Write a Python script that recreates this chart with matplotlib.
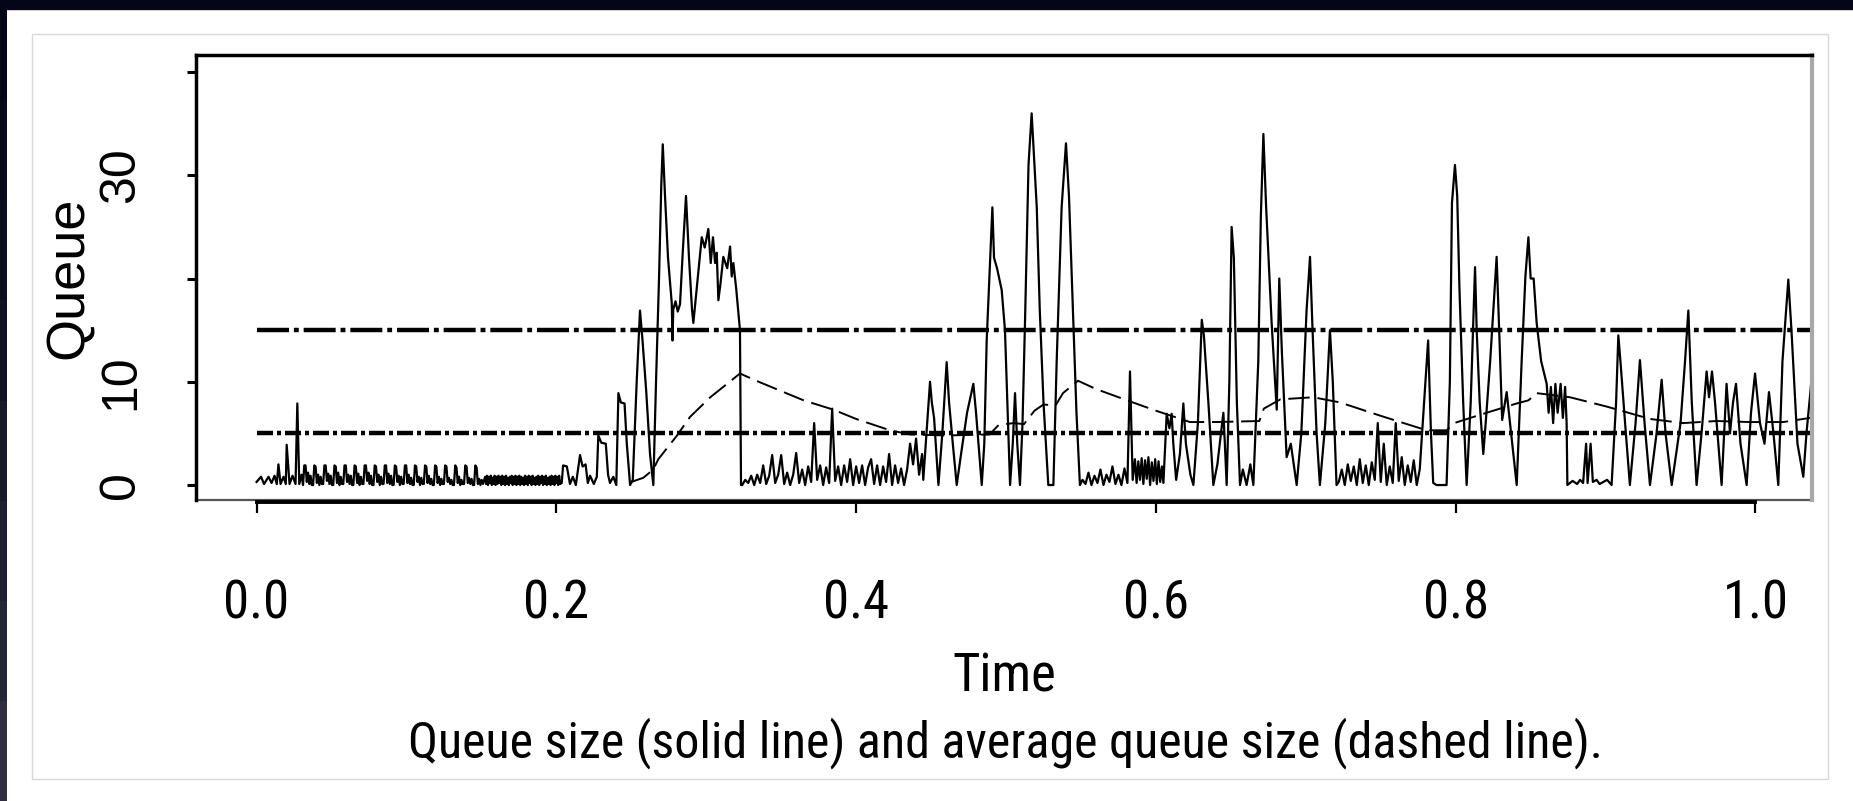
import numpy as np
import matplotlib
matplotlib.use("Agg")
import matplotlib.pyplot as plt
from matplotlib import font_manager
from matplotlib.patches import Rectangle

# === Daten ===
min_th = 5
max_th = 15

# Anfang: kleine Zacken
seg_start = [(0.000, 0.3), (0.003, 0.8), (0.005, 0.1), (0.008, 0.8), (0.010, 0.2),
             (0.012, 0.9), (0.0135, 0.1), (0.0146, 2.0), (0.016, 0.1), (0.018, 0.8),
             (0.0195, 0.1), (0.0201, 3.9), (0.022, 0.1), (0.024, 0.9), (0.026, 0.1),
             (0.0272, 7.9), (0.0285, 0.1), (0.030, 1.0)]

# periodische Zaehne t=0.031..0.151 (gleichmaessig abgetastet)
teeth_q = [0.0, 1.9, 1.9, 0.3, 1.2, 0.1, 0.9, 0.0,
           0.0, 1.9, 1.8, 0.2, 1.0, 0.0, 0.8, 0.1,
           0.1, 1.9, 1.9, 0.4, 1.1, 0.1, 0.9, 0.0,
           0.0, 1.9, 1.8, 0.2, 1.2, 0.0, 0.8, 0.1,
           0.1, 1.9, 1.9, 0.3, 1.0, 0.1, 0.9, 0.0,
           0.0, 1.9, 1.8, 0.2, 1.1, 0.0, 0.8, 0.1,
           0.1, 1.9, 1.9, 0.4, 1.2, 0.1, 0.9, 0.0,
           0.0, 1.9, 1.8, 0.3, 1.0, 0.0, 0.8, 0.1,
           0.1, 1.9, 1.9, 0.2, 1.1, 0.1, 0.9, 0.0,
           0.0, 1.9, 1.8, 0.3, 0.9, 0.0, 0.8, 0.1,
           0.1, 1.9, 1.9, 0.2, 1.0, 0.1, 0.7, 0.0,
           0.0, 1.9, 1.8, 0.3, 0.8, 0.0, 0.7, 0.1,
           0.1, 1.9, 1.8, 0.2, 0.9, 0.1, 0.6, 0.0,
           0.0, 1.9, 1.8, 0.2, 0.8, 0.0, 0.6, 0.1,
           0.1, 1.9, 1.8, 0.3, 0.7, 0.1, 0.5, 0.0,
           0.0, 1.9, 1.7, 0.2, 0.8, 0.0, 0.5, 0.1,
           0.1, 1.9, 1.8, 0.2, 0.7, 0.1, 0.6, 0.0,
           0.0, 1.9, 1.7, 0.1, 0.6, 0.0, 0.5, 0.1]

# flaches dichtes Band t=0.1525..0.2025
band_q = [0.8, 0.1, 0.9, 0.0, 0.8, 0.2, 0.9, 0.0, 0.7, 0.1, 0.9, 0.0, 0.8, 0.1,
          0.9, 0.2, 0.8, 0.0, 0.9, 0.1, 0.8, 0.0, 0.9, 0.1, 0.7, 0.0, 0.8, 0.2,
          0.9, 0.0, 0.8, 0.1, 0.9, 0.0, 0.8, 0.1, 0.9, 0.0, 0.8, 0.1, 0.7, 0.0,
          0.9, 0.1, 0.8, 0.0, 0.9, 0.2, 0.8, 0.0, 0.9, 0.1, 0.7, 0.0, 0.8, 0.1,
          0.9, 0.0, 0.8, 0.2, 0.9, 0.0, 0.8, 0.1, 0.9, 0.0, 0.7, 0.1, 0.8, 0.0,
          0.9, 0.1, 0.8, 0.0, 0.9, 0.2, 0.8, 0.0, 0.9, 0.1]

seg_burst1 = [(0.2036, 0.2), (0.2045, 1.9), (0.2070, 1.8), (0.2091, 0.1), (0.2110, 0.8),
              (0.2130, 0.0), (0.2158, 2.9), (0.2175, 1.8), (0.2195, 2.0), (0.2210, 0.2),
              (0.2225, 0.9), (0.2250, 0.1), (0.2270, 0.8), (0.2280, 4.8), (0.2300, 4.1),
              (0.2330, 4.0), (0.2345, 1.0), (0.2358, 0.2), (0.2380, 0.8), (0.2400, 0.0),
              (0.2414, 8.9), (0.2430, 8.0), (0.2455, 7.9), (0.2470, 4.0), (0.2492, 0.0),
              (0.2510, 0.5), (0.2536, 10.0), (0.2558, 16.9), (0.2575, 14.0), (0.2600, 9.0),
              (0.2625, 3.0), (0.2647, 0.0), (0.2665, 10.0), (0.2685, 20.0), (0.2700, 29.0),
              (0.2710, 33.0), (0.2725, 28.0), (0.2745, 22.0), (0.2770, 17.6), (0.2775, 14.0),
              (0.2780, 17.0), (0.2795, 17.8), (0.2810, 16.8), (0.2825, 17.5), (0.2845, 23.0),
              (0.2865, 28.0), (0.2885, 22.0), (0.2905, 17.0), (0.2914, 15.7), (0.2970, 24.0),
              (0.2990, 23.0), (0.3014, 24.8), (0.3030, 21.5), (0.3045, 24.0), (0.3059, 21.5),
              (0.3070, 22.5), (0.3081, 17.9), (0.3095, 19.5), (0.3114, 22.1), (0.3140, 21.0),
              (0.3159, 23.1), (0.3170, 20.2), (0.3181, 21.5), (0.3200, 19.0), (0.3225, 15.0),
              (0.3232, 0.0)]

# ruhige Phase t=0.324..0.444 (Schritt 0.002)
calm1_q = [0.0, 0.5, 0.2, 0.9, 0.0, 1.0, 0.2, 1.9, 0.1, 0.9, 2.9, 0.2, 1.0, 2.9, 0.1,
           1.2, 0.0, 1.0, 3.1, 0.2, 1.5, 0.0, 1.8, 0.3, 6.0, 0.5, 1.9, 0.0, 1.7, 0.2,
           7.4, 0.4, 1.8, 0.0, 1.9, 0.3, 2.5, 0.0, 1.8, 0.2, 1.9, 0.0, 1.7, 2.5, 0.1,
           1.9, 0.0, 1.8, 0.3, 3.0, 0.0, 1.9, 0.2, 1.6, 0.0, 1.5, 4.0, 2.0, 4.5, 1.0,
           3.0]

seg_burst2 = [(0.4448, 0.5), (0.4493, 10.0), (0.4505, 8.0), (0.4520, 6.5), (0.4549, 0.0),
              (0.4575, 5.0), (0.4604, 11.9), (0.4620, 8.0), (0.4645, 4.0), (0.4671, 0.0),
              (0.4700, 3.0), (0.4740, 7.0), (0.4782, 9.8), (0.4800, 7.0), (0.4838, 0.0),
              (0.4855, 4.0), (0.4871, 14.0), (0.4909, 26.9), (0.4920, 22.0), (0.4940, 21.0),
              (0.4971, 18.9), (0.4993, 15.0), (0.5027, 0.0), (0.5045, 4.0), (0.5060, 8.9),
              (0.5075, 4.0), (0.5093, 0.0), (0.5110, 6.0), (0.5127, 16.0), (0.5150, 31.0),
              (0.5171, 36.0), (0.5190, 31.0), (0.5205, 26.9), (0.5225, 17.0), (0.5250, 8.0),
              (0.5282, 0.0), (0.5316, 0.0), (0.5338, 12.0), (0.5371, 26.9), (0.5400, 33.1),
              (0.5420, 28.0), (0.5449, 15.7), (0.5470, 7.0), (0.5493, 0.0)]

# t=0.551..0.581
calm2_q = [0.5, 0.1, 1.2, 0.0, 0.9, 0.2, 1.5, 0.0, 1.0, 0.3, 1.8, 0.1, 1.0, 0.0, 1.6, 0.2]

seg_spike = [(0.5827, 11.0), (0.5845, 0.5)]

# dichter Block t=0.586..0.604
block_q = [2.5, 0.2, 2.3, 0.5, 2.6, 0.1, 2.4, 0.6, 2.7, 0.0, 2.2, 0.4, 2.5, 0.1, 2.3, 0.3, 1.8]

seg_burst3 = [(0.6050, 0.2), (0.6072, 6.9), (0.6090, 5.5), (0.6105, 6.9), (0.6116, 4.0),
              (0.6135, 0.5), (0.6160, 3.0), (0.6183, 7.9), (0.6200, 4.0), (0.6230, 1.0),
              (0.6250, 0.0), (0.6280, 6.0), (0.6306, 16.0), (0.6320, 14.5), (0.6350, 8.0),
              (0.6383, 0.0), (0.6410, 2.0), (0.6450, 7.0), (0.6460, 4.0), (0.6472, 0.0),
              (0.6490, 10.0), (0.6505, 25.0), (0.6520, 22.0), (0.6540, 8.0), (0.6561, 0.0),
              (0.6580, 1.5), (0.6605, 0.0), (0.6630, 2.0), (0.6650, 0.0), (0.6683, 12.0),
              (0.6700, 26.0), (0.6717, 34.0), (0.6735, 27.0), (0.6772, 15.7), (0.6806, 7.3),
              (0.6823, 20.0), (0.6840, 13.0), (0.6872, 2.7), (0.6900, 4.0), (0.6939, 0.0),
              (0.6970, 5.0), (0.7005, 16.9), (0.7028, 22.1), (0.7045, 15.0), (0.7072, 5.0),
              (0.7094, 0.0), (0.7130, 6.0), (0.7161, 15.0), (0.7180, 10.0), (0.7205, 0.0)]

# t=0.722..0.776
calm3_q = [0.3, 1.5, 0.0, 2.0, 0.4, 1.8, 0.0, 2.5, 0.2, 1.9, 0.0, 2.2, 0.5, 6.0,
           0.3, 4.0, 0.0, 1.8, 0.2, 6.0, 0.4, 2.7, 0.0, 1.9, 0.3, 2.4, 0.0, 1.5]

seg_burst4 = [(0.7816, 14.0), (0.7835, 5.0), (0.7850, 0.2), (0.7872, 0.0), (0.7939, 0.0),
              (0.7961, 10.0), (0.7975, 27.3), (0.7995, 31.0), (0.8010, 28.0), (0.8025, 19.0),
              (0.8050, 8.0), (0.8073, 0.0), (0.8100, 8.0), (0.8129, 21.1), (0.8140, 15.0),
              (0.8160, 8.0), (0.8184, 3.0), (0.8200, 6.0), (0.8230, 12.0), (0.8273, 22.1),
              (0.8290, 15.0), (0.8310, 6.3), (0.8340, 9.0), (0.8370, 5.0), (0.8407, 0.0),
              (0.8440, 12.0), (0.8465, 20.2), (0.8485, 24.0), (0.8500, 20.0), (0.8520, 20.0),
              (0.8540, 15.7), (0.8570, 12.0), (0.8607, 9.8), (0.8620, 7.0), (0.8635, 9.5),
              (0.8650, 6.0), (0.8665, 9.8), (0.8680, 7.0), (0.8700, 9.8), (0.8715, 6.5),
              (0.8730, 9.5), (0.8740, 6.0), (0.8745, 0.0), (0.8780, 0.4), (0.8810, 0.1),
              (0.8830, 0.5), (0.8850, 0.2), (0.8870, 4.0), (0.8880, 0.2), (0.8900, 4.0),
              (0.8915, 0.3), (0.8940, 0.5), (0.8960, 0.1), (0.8985, 0.3), (0.9010, 0.5),
              (0.9040, 0.0), (0.9070, 8.0), (0.9085, 14.5), (0.9100, 11.8), (0.9130, 6.0),
              (0.9162, 0.0), (0.9200, 6.0), (0.9229, 12.1), (0.9260, 6.0), (0.9296, 0.0),
              (0.9340, 5.0), (0.9374, 10.2), (0.9400, 5.0), (0.9441, 0.0), (0.9500, 6.0),
              (0.9530, 12.0), (0.9552, 16.9), (0.9575, 8.0), (0.9607, 0.0), (0.9640, 5.0),
              (0.9674, 11.0), (0.9690, 8.5), (0.9710, 11.0), (0.9730, 8.0), (0.9774, 0.0),
              (0.9807, 9.8), (0.9830, 5.0), (0.9850, 8.0), (0.9870, 9.8), (0.9900, 4.0),
              (0.9941, 0.0), (0.9970, 7.0), (0.9997, 10.8), (1.0030, 6.0), (1.0060, 4.0),
              (1.0090, 9.0), (1.0120, 5.0), (1.0152, 0.0), (1.0180, 12.0), (1.0219, 19.9),
              (1.0240, 15.0), (1.0280, 4.0), (1.0319, 0.8), (1.0340, 5.0), (1.0363, 8.5),
              (1.0400, 14.5), (1.0420, 18.0)]

# mittlere Warteschlange (gestrichelt)
avg_t = [0.250, 0.258, 0.2647, 0.268, 0.280, 0.2892, 0.3027, 0.3225, 0.335, 0.350,
         0.365, 0.3848, 0.400, 0.4226, 0.436, 0.460, 0.489, 0.495, 0.505, 0.512,
         0.519, 0.525, 0.533, 0.538, 0.548, 0.560, 0.5827, 0.600, 0.6227, 0.640,
         0.669, 0.672, 0.683, 0.705, 0.7228, 0.750, 0.7806, 0.7939, 0.7990, 0.8184,
         0.8407, 0.8485, 0.854, 0.8763, 0.9007, 0.9296, 0.9518, 0.974, 0.9962, 1.0186,
         1.0407]
avg_q = [0.3, 0.7, 1.5, 2.5, 4.7, 6.6, 8.5, 10.8, 10.0, 9.1,
         8.2, 7.3, 6.4, 5.3, 4.9, 4.8, 4.9, 5.8, 6.0, 5.9,
         7.2, 7.8, 7.7, 8.9, 10.1, 9.3, 8.1, 7.2, 6.1, 6.1,
         6.2, 7.4, 8.3, 8.5, 8.0, 6.7, 5.3, 5.3, 6.0, 6.9,
         7.9, 8.2, 8.9, 8.5, 7.6, 6.4, 6.0, 6.2, 6.1, 6.1,
         6.6]

x_ticks = [0.0, 0.2, 0.4, 0.6, 0.8, 1.0]
x_ticklabels = ["0.0", "0.2", "0.4", "0.6", "0.8", "1.0"]
y_ticks = [0, 10, 20, 30, 40]
y_ticklabels = ["0", "10", "", "30", ""]


def pairs(seg):
    return [p[0] for p in seg], [p[1] for p in seg]


# Zeitreihe zusammensetzen
parts_t, parts_q = [], []
for piece in [
    pairs(seg_start),
    (np.linspace(0.031, 0.151, len(teeth_q)), teeth_q),
    (np.linspace(0.1525, 0.2025, len(band_q)), band_q),
    pairs(seg_burst1),
    (np.linspace(0.324, 0.444, len(calm1_q)), calm1_q),
    pairs(seg_burst2),
    (np.linspace(0.551, 0.581, len(calm2_q)), calm2_q),
    pairs(seg_spike),
    (np.linspace(0.586, 0.604, len(block_q)), block_q),
    pairs(seg_burst3),
    (np.linspace(0.722, 0.776, len(calm3_q)), calm3_q),
    pairs(seg_burst4),
]:
    parts_t.append(np.asarray(piece[0], dtype=float))
    parts_q.append(np.asarray(piece[1], dtype=float))
queue_t = np.concatenate(parts_t)
queue_q = np.concatenate(parts_q)

# === Schriften ===
names = {f.name for f in font_manager.fontManager.ttflist}
narrow = None
for cand in ["Liberation Sans Narrow", "Roboto Condensed", "Open Sans Condensed"]:
    if cand in names:
        narrow = cand
        break
if narrow is not None:
    hfont, hsize, csize = narrow, 38, 36
else:
    hfont, hsize, csize = "Liberation Sans", 33, 31
plt.rcParams["font.family"] = [hfont, "DejaVu Sans"]

W, H = 1853, 801
fig = plt.figure(figsize=(W / 100, H / 100), dpi=100)
fig.patch.set_facecolor("white")

# Rahmen/Hintergrund wie im Screenshot
fig.patches.append(Rectangle((0, 1 - 9 / H), 1, 9 / H, transform=fig.transFigure,
                             color="#05051a", zorder=0))
strip_cols = ["#2e2e40", "#26263a", "#1e1e34", "#17172e", "#111128", "#0c0c22", "#08081d", "#05051a"]
for i, c in enumerate(strip_cols):
    fig.patches.append(Rectangle((0, i / len(strip_cols)), 7 / W, 1 / len(strip_cols),
                                 transform=fig.transFigure, color=c, lw=0, zorder=0))
fig.patches.append(Rectangle((32 / W, 1 - 779 / H), (1828 - 32) / W, (779 - 34) / H,
                             transform=fig.transFigure, fill=False,
                             edgecolor="#d8d8d8", lw=1, zorder=0))

ax = fig.add_axes([196 / W, 1 - 500 / H, (1812 - 196) / W, (500 - 55) / H])
ax.set_facecolor("white")

# Schwellen
ax.plot([0, 1.1], [max_th, max_th], color="black", lw=3.2,
        linestyle=(0, (7.2, 1.1, 1.1, 1.1)), dash_capstyle="butt")
ax.plot([0, 1.1], [min_th, min_th], color="black", lw=3.2,
        linestyle=(0, (3.6, 0.9, 0.9, 0.9)), dash_capstyle="butt")

# Queue und Mittelwert
ax.plot(queue_t, queue_q, color="black", lw=1.6)
ax.plot(avg_t, avg_q, color="black", lw=1.4, linestyle=(0, (11, 4)))

ax.set_xlim(-0.0404, 1.0377)
ax.set_ylim(-1.45, 41.65)

# Achsen im R-Stil
for side in ["left", "top"]:
    ax.spines[side].set_linewidth(2.5)
    ax.spines[side].set_color("black")
ax.spines["right"].set_linewidth(3)
ax.spines["right"].set_color("#a8a8a8")
ax.spines["bottom"].set_position(("outward", 1.5))
ax.spines["bottom"].set_bounds(0, 1)
ax.spines["bottom"].set_linewidth(2.8)
ax.plot([0, 1], [0, 0], transform=ax.transAxes, color="#555555", lw=1.6, clip_on=False)

ax.set_xticks(x_ticks, labels=x_ticklabels)
ax.tick_params(axis="x", direction="out", length=8, width=1.6, pad=47,
               labelsize=hsize, colors="black")
ax.set_yticks(y_ticks)
ax.set_yticklabels(y_ticklabels, rotation=90, va="center",
                   fontfamily="Liberation Sans", fontsize=36)
ax.tick_params(axis="y", direction="out", length=6.5, width=2.2, pad=31, colors="black")

ax.set_xlabel("Time", fontsize=hsize, va="baseline")
ax.xaxis.set_label_coords(0.5, (500 - 692) / 445)
ax.set_ylabel("Queue", fontsize=39, fontfamily="Liberation Sans", va="baseline")
ax.yaxis.set_label_coords((83 - 196) / 1616, (500 - 278) / 445)

fig.text(1005 / W, 1 - 757 / H,
         "Queue size (solid line) and average queue size (dashed line).",
         ha="center", va="baseline", fontsize=csize)

fig.savefig("out.png", dpi=100, facecolor=fig.get_facecolor())
